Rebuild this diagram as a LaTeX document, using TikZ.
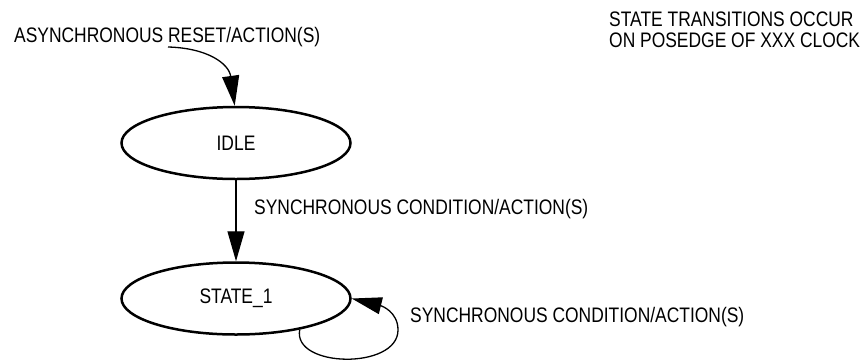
\documentclass[tikz,border=0pt]{standalone}
\usepackage{fontspec}
\setmainfont{Liberation Sans}[FakeStretch=0.83]
\usepackage{tikz}
\usetikzlibrary{shapes.geometric, arrows.meta, positioning}

\tikzset{
  statebox/.style={ellipse, draw, line width=2.5pt, minimum width=229pt, minimum height=72pt, inner sep=0pt},
  lbl/.style={anchor=base west, inner sep=0pt},
  trans/.style={line width=1.3pt, -{Triangle[length=30pt, width=17pt]}}
}

\begin{document}
\begin{tikzpicture}[x=1pt, y=-1pt]
    \useasboundingbox (0,0) rectangle (866,360);
    \fontsize{21}{21.5}\selectfont
    \node[statebox] (idle) at (236,143) {IDLE};
    \node[statebox] (stateone) at (236,298.5) {STATE\_1};
    \node[lbl] (rstlbl) at (14,42.7) {ASYNCHRONOUS RESET/ACTION(S)};
    \node[lbl] (synclbl) at (254,214.5) {SYNCHRONOUS CONDITION/ACTION(S)};
    \node[lbl] (looplbl) at (410,322) {SYNCHRONOUS CONDITION/ACTION(S)};
    \node[align=left, anchor=north west, inner sep=0pt] (note) at (609,11.5)
      {STATE TRANSITIONS OCCUR\\ON POSEDGE OF XXX CLOCK};
    \coordinate (rst) at (168,47);
    \draw[trans] (rst) .. controls (208,48) and (229,64) .. (idle.92);
    \draw[trans] (idle) -- (stateone);
    \draw[trans] (stateone.-26) .. controls (292,368) and (398,370) .. (398,330)
      .. controls (398,312) and (382,306) .. (stateone.east);
\end{tikzpicture}
\end{document}
